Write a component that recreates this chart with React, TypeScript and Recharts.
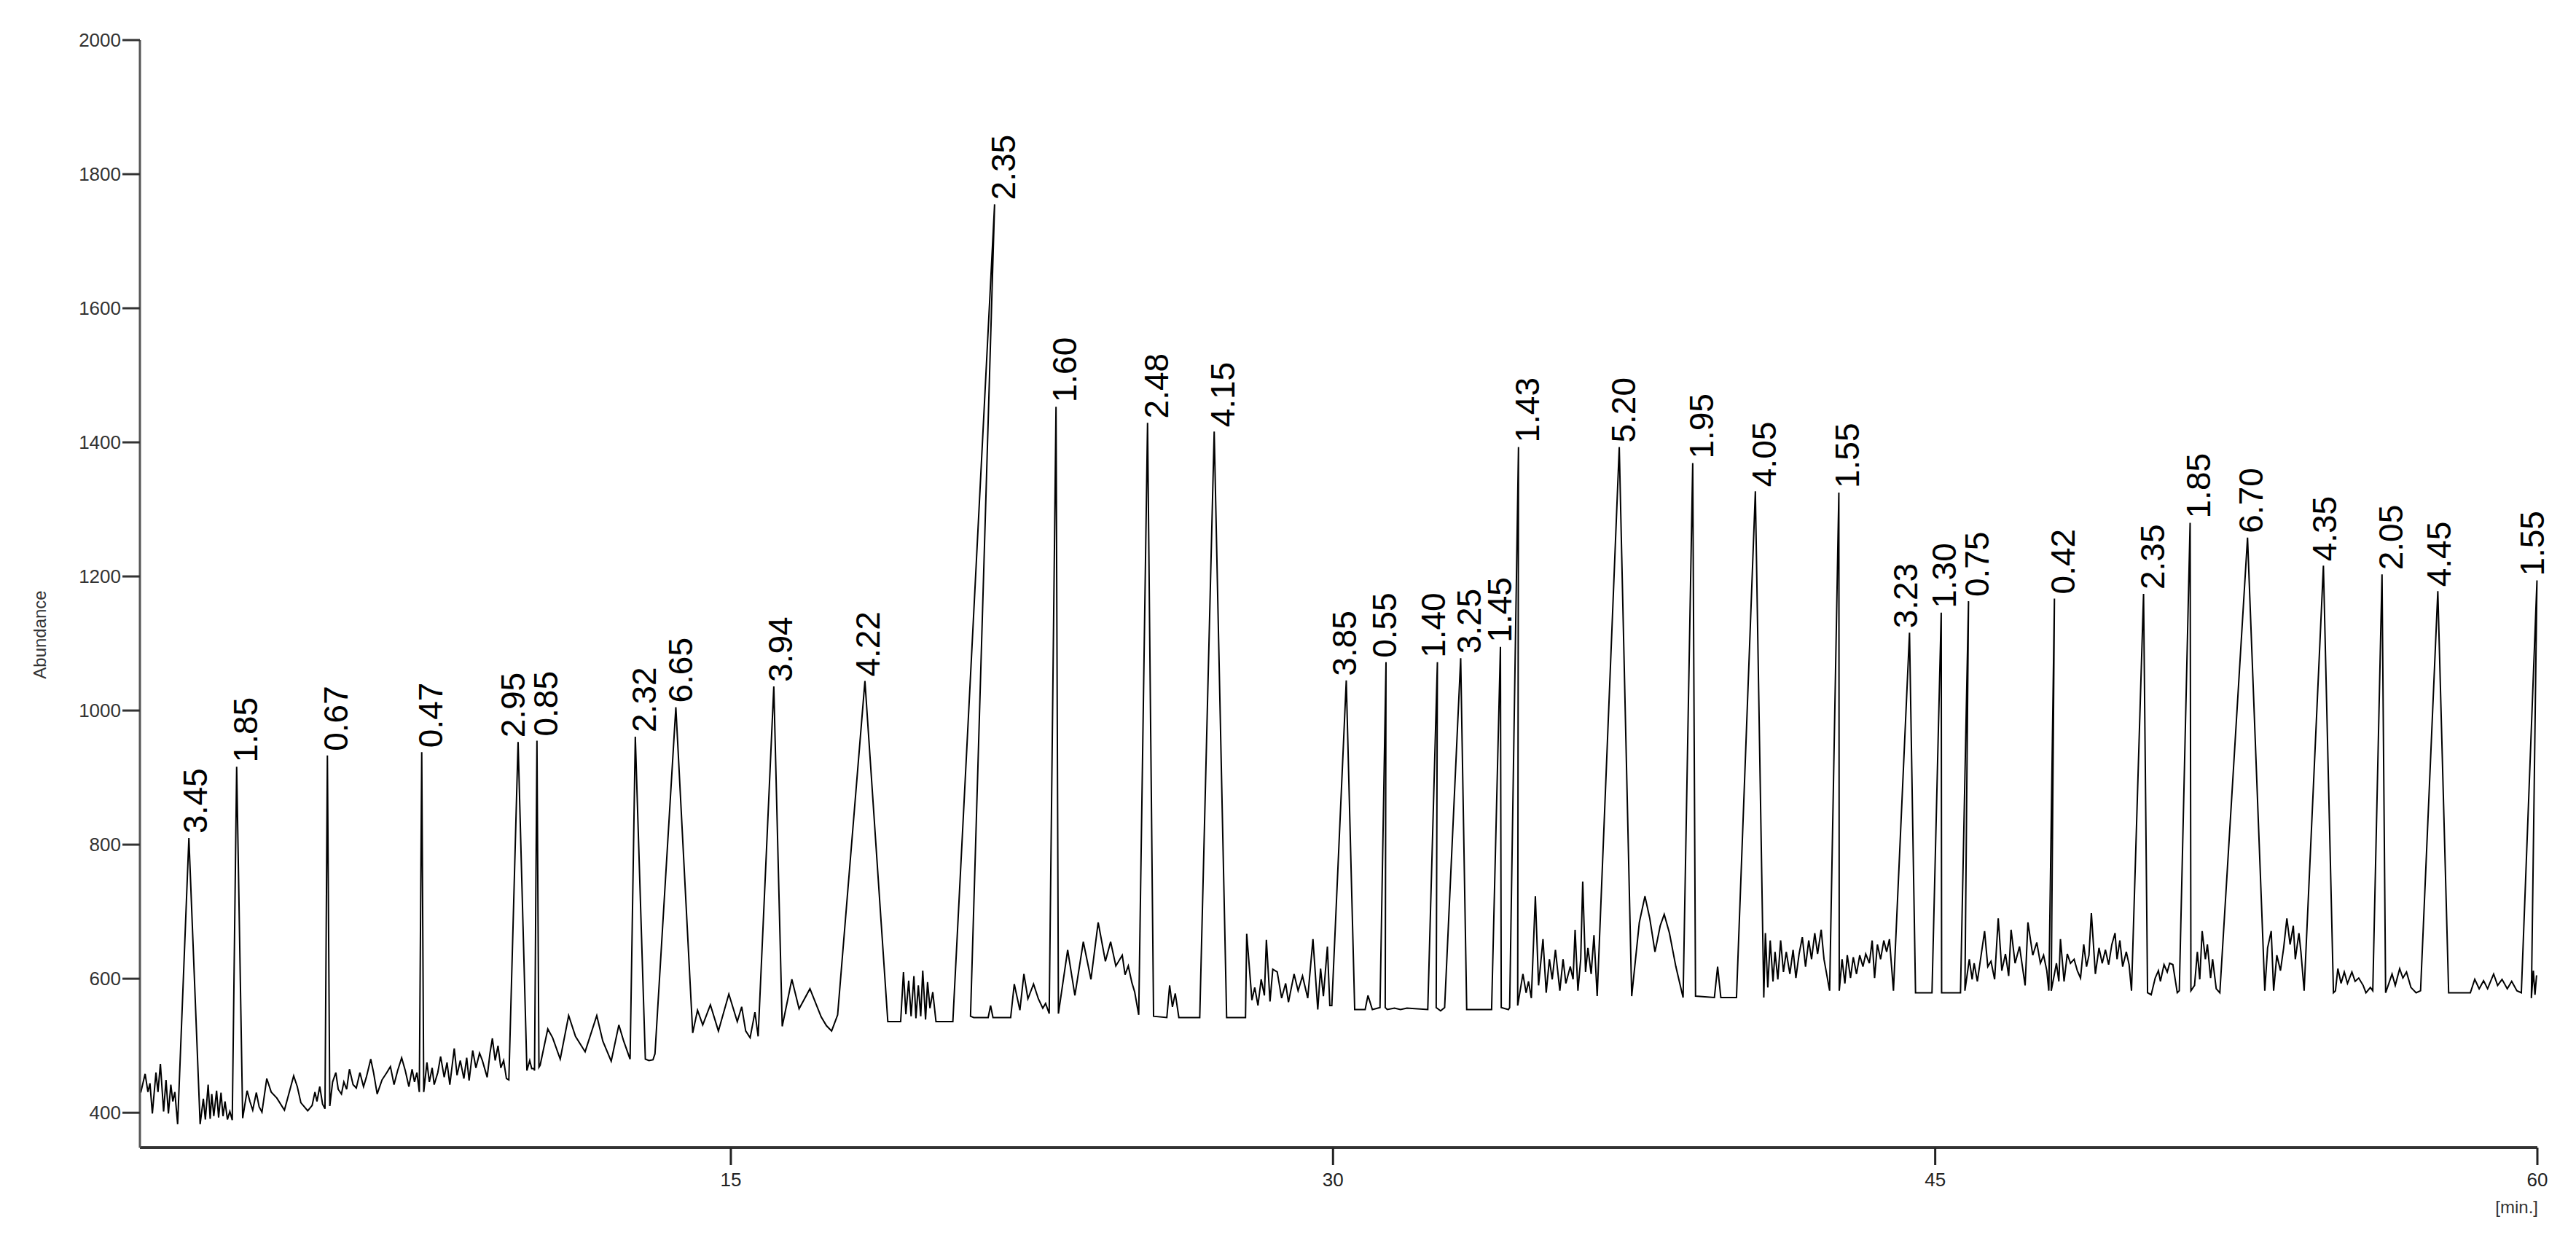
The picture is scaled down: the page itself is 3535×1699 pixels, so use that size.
import { ComposedChart, Line, Scatter, XAxis, YAxis } from 'recharts';

// chromatogram trace, [time (min), abundance]
const trace0to10: [number, number][] = [
  [0.30, 430], [0.41, 458], [0.48, 431], [0.53, 444], [0.59, 399], [0.68, 460], [0.73, 431], [0.79, 473],
  [0.87, 402], [0.93, 449], [0.99, 399], [1.05, 442], [1.10, 417], [1.15, 431], [1.22, 383],
  [1.50, 810], [1.78, 383],
  [1.86, 421], [1.91, 390], [1.98, 442], [2.03, 391], [2.07, 428], [2.12, 395], [2.19, 433], [2.24, 393],
  [2.30, 430], [2.35, 395], [2.40, 417], [2.46, 390], [2.52, 402], [2.58, 389],
  [2.69, 916], [2.84, 392],
  [2.95, 433], [3.02, 417], [3.09, 404], [3.18, 430], [3.25, 409], [3.32, 401], [3.44, 451], [3.55, 431],
  [3.69, 422], [3.88, 404], [4.11, 455], [4.20, 439], [4.29, 415], [4.46, 403], [4.57, 411], [4.64, 431],
  [4.69, 417], [4.76, 439], [4.83, 413], [4.89, 406],
  [4.95, 933], [5.01, 410],
  [5.08, 446], [5.16, 460], [5.22, 435], [5.30, 428], [5.36, 446], [5.43, 435], [5.50, 465], [5.59, 442],
  [5.67, 437], [5.76, 460], [5.85, 439], [5.92, 453], [6.03, 480], [6.10, 460], [6.19, 428], [6.31, 449],
  [6.43, 460], [6.52, 469], [6.61, 442], [6.70, 463], [6.80, 482], [6.89, 463], [6.98, 439], [7.06, 465],
  [7.12, 446], [7.18, 460], [7.24, 431],
  [7.30, 938], [7.35, 431],
  [7.43, 475], [7.49, 446], [7.56, 467], [7.61, 442], [7.70, 460], [7.77, 484], [7.86, 453], [7.93, 475],
  [8.00, 442], [8.11, 496], [8.18, 456], [8.26, 478], [8.35, 451], [8.42, 482], [8.48, 448], [8.57, 493],
  [8.65, 467], [8.74, 489], [8.81, 478], [8.93, 453], [9.00, 489], [9.06, 511], [9.13, 478], [9.20, 500],
  [9.27, 467], [9.34, 478], [9.41, 451], [9.47, 449],
  [9.70, 953], [9.92, 463],
  [9.99, 478], [10.04, 466], [10.09, 466], [10.11, 463],
];

const trace10to20: [number, number][] = [
  [10.17, 955], [10.22, 468],
  [10.25, 471], [10.44, 525], [10.56, 512], [10.75, 480], [10.96, 545], [11.13, 514], [11.37, 491],
  [11.66, 545], [11.81, 507], [12.02, 477], [12.21, 531], [12.33, 507], [12.49, 480],
  [12.62, 961], [12.87, 480], [12.96, 478], [13.06, 479], [13.11, 488],
  [13.63, 1005], [14.05, 519],
  [14.17, 553], [14.30, 531], [14.49, 561], [14.69, 522], [14.95, 577], [15.16, 536], [15.27, 558],
  [15.37, 522], [15.48, 512], [15.60, 550], [15.68, 514],
  [16.07, 1036], [16.28, 529],
  [16.52, 599], [16.70, 555], [16.97, 585], [17.25, 543], [17.38, 530], [17.51, 522], [17.66, 546],
  [18.34, 1044], [18.91, 536],
  [19.23, 536], [19.30, 610], [19.36, 547], [19.43, 597], [19.49, 544], [19.56, 604], [19.61, 541],
  [19.67, 590], [19.73, 544], [19.78, 612], [19.85, 539], [19.90, 595], [19.96, 556], [20.03, 580],
  [20.11, 536], [20.53, 536],
];

const trace20to30: [number, number][] = [
  [21.57, 1755], [20.97, 544],
  [21.05, 542], [21.41, 542], [21.47, 560], [21.53, 542], [21.97, 542], [22.06, 592], [22.20, 553],
  [22.30, 607], [22.40, 570], [22.54, 592], [22.66, 570], [22.77, 556], [22.84, 563], [22.93, 548],
  [23.10, 1453], [23.16, 548],
  [23.39, 643], [23.57, 575], [23.78, 655], [23.97, 599], [24.15, 684], [24.33, 626], [24.46, 655],
  [24.59, 619], [24.75, 635], [24.82, 606], [24.90, 619], [24.99, 594], [25.06, 580], [25.16, 546],
  [25.38, 1429], [25.53, 544],
  [25.86, 542], [25.93, 590], [26.00, 558], [26.07, 578], [26.16, 542], [26.68, 542],
  [27.04, 1416], [27.35, 542], [27.82, 542],
  [27.85, 667], [27.98, 568], [28.05, 587], [28.13, 560], [28.21, 599], [28.29, 575], [28.34, 658],
  [28.43, 566], [28.50, 614], [28.61, 610], [28.72, 571], [28.82, 593], [28.89, 565], [29.03, 607],
  [29.13, 582], [29.24, 604], [29.37, 571], [29.50, 659], [29.62, 554], [29.69, 615], [29.76, 574],
  [29.86, 648], [29.92, 560], [29.97, 560],
];

const trace30to40: [number, number][] = [
  [30.33, 1045], [30.54, 554],
  [30.80, 554], [30.87, 575], [30.98, 554], [31.17, 557],
  [31.32, 1072], [31.30, 557],
  [31.35, 554], [31.53, 556], [31.68, 554], [31.84, 556], [32.36, 554],
  [32.60, 1072], [32.57, 557], [32.68, 552], [32.78, 557],
  [33.18, 1078], [33.33, 554], [33.95, 554],
  [34.17, 1095], [34.19, 557], [34.37, 554], [34.40, 557],
  [34.62, 1393], [34.60, 560],
  [34.73, 607], [34.81, 579], [34.87, 596], [34.94, 571], [35.04, 723], [35.12, 590], [35.23, 659],
  [35.31, 579], [35.39, 629], [35.46, 599], [35.54, 643], [35.65, 582], [35.73, 629], [35.80, 593],
  [35.91, 618], [35.98, 599], [36.03, 673], [36.10, 582], [36.17, 629], [36.22, 745], [36.29, 610],
  [36.35, 646], [36.43, 607], [36.50, 665], [36.58, 574],
  [37.13, 1393], [37.44, 574],
  [37.63, 684], [37.77, 723], [37.89, 690], [38.02, 640], [38.15, 679], [38.25, 696], [38.38, 668],
  [38.54, 618], [38.72, 572],
  [38.96, 1369], [39.03, 574],
  [39.50, 572], [39.58, 618], [39.66, 572], [40.05, 572],
];

const trace40to50: [number, number][] = [
  [40.52, 1327], [40.73, 572],
  [40.77, 668], [40.83, 587], [40.89, 657], [40.96, 596], [41.01, 640], [41.08, 599], [41.15, 657],
  [41.22, 610], [41.29, 640], [41.38, 607], [41.46, 643], [41.53, 601], [41.61, 637], [41.69, 662],
  [41.77, 618], [41.85, 657], [41.92, 629], [42.00, 668], [42.07, 637], [42.16, 673], [42.23, 629],
  [42.37, 582],
  [42.60, 1325], [42.61, 582],
  [42.68, 629], [42.75, 593], [42.81, 635], [42.89, 601], [42.96, 632], [43.04, 607], [43.12, 635],
  [43.20, 618], [43.27, 637], [43.36, 623], [43.43, 657], [43.49, 601], [43.56, 651], [43.64, 629],
  [43.72, 657], [43.79, 640], [43.86, 659], [43.96, 582],
  [44.36, 1116], [44.51, 579], [44.92, 579],
  [45.15, 1146], [45.16, 579], [45.63, 579],
  [45.83, 1163], [45.74, 582],
  [45.85, 629], [45.92, 599], [45.97, 623], [46.05, 596], [46.11, 621], [46.23, 671], [46.31, 618],
  [46.39, 626], [46.48, 599], [46.57, 690], [46.66, 612], [46.75, 637], [46.83, 604], [46.89, 673],
  [46.99, 623], [47.10, 648], [47.24, 590], [47.31, 684], [47.43, 635], [47.53, 654], [47.62, 623],
  [47.70, 635], [47.78, 612], [47.83, 582],
  [47.97, 1167], [47.89, 582],
  [48.02, 623], [48.08, 596], [48.12, 659], [48.21, 596], [48.29, 637], [48.37, 623], [48.46, 629],
  [48.54, 612], [48.62, 601], [48.70, 651], [48.77, 618], [48.83, 635], [48.89, 698], [48.99, 607],
  [49.08, 646], [49.16, 623], [49.24, 643], [49.32, 621], [49.40, 651], [49.48, 668], [49.53, 629],
  [49.60, 657], [49.67, 618], [49.76, 640], [49.83, 621], [49.89, 582],
];

const trace50to60: [number, number][] = [
  [50.19, 1174], [50.29, 579],
  [50.38, 576], [50.48, 601], [50.56, 612], [50.61, 596], [50.70, 621], [50.78, 610], [50.84, 623],
  [50.92, 621], [51.03, 579], [51.08, 582],
  [51.35, 1280], [51.37, 582],
  [51.46, 590], [51.53, 640], [51.59, 599], [51.65, 671], [51.73, 629], [51.78, 651], [51.86, 601],
  [51.91, 629], [52.00, 585], [52.09, 579],
  [52.78, 1258], [53.21, 582],
  [53.28, 646], [53.37, 671], [53.43, 582], [53.51, 635], [53.60, 612], [53.68, 646], [53.76, 690],
  [53.84, 651], [53.92, 679], [53.97, 629], [54.06, 668], [54.11, 640], [54.19, 582],
  [54.67, 1216], [54.92, 579],
  [54.97, 582], [55.03, 615], [55.11, 593], [55.19, 610], [55.27, 593], [55.38, 610], [55.46, 596],
  [55.55, 601], [55.66, 590], [55.73, 579], [55.84, 587], [55.90, 582],
  [56.13, 1203], [56.22, 579],
  [56.30, 593], [56.38, 607], [56.46, 590], [56.57, 615], [56.65, 601], [56.74, 610], [56.85, 587],
  [56.98, 579], [57.09, 582],
  [57.52, 1178], [57.79, 579], [58.33, 579],
  [58.44, 599], [58.55, 585], [58.66, 597], [58.76, 585], [58.91, 607], [59.01, 590], [59.12, 599],
  [59.25, 585], [59.36, 596], [59.49, 582], [59.60, 579],
  [59.99, 1194], [59.85, 571],
  [59.90, 612], [59.94, 576], [59.98, 605],
];

// labelled peaks
const peakTimes = [
  1.50, 2.69, 4.95, 7.30, 9.70, 10.17, 12.62, 13.63, 16.07, 18.34, 21.57, 23.10, 25.38, 27.04, 30.33,
  31.32, 32.60, 33.18, 34.17, 34.62, 37.13, 38.96, 40.52, 42.60, 44.36, 45.15, 45.83, 47.97, 50.19,
  51.35, 52.78, 54.67, 56.13, 57.52, 59.99,
];
const peakHeights = [
  810, 916, 933, 938, 953, 955, 961, 1005, 1036, 1044, 1755, 1453, 1429, 1416, 1045,
  1072, 1072, 1078, 1095, 1393, 1393, 1369, 1327, 1325, 1116, 1146, 1163, 1167, 1174,
  1280, 1258, 1216, 1203, 1178, 1194,
];
const peakLabels = [
  '3.45', '1.85', '0.67', '0.47', '2.95', '0.85', '2.32', '6.65', '3.94', '4.22', '2.35', '1.60', '2.48', '4.15', '3.85',
  '0.55', '1.40', '3.25', '1.45', '1.43', '5.20', '1.95', '4.05', '1.55', '3.23', '1.30', '0.75', '0.42', '2.35',
  '1.85', '6.70', '4.35', '2.05', '4.45', '1.55',
];

const xTicks = [15, 30, 45, 60];
const yTicks = [400, 600, 800, 1000, 1200, 1400, 1600, 1800, 2000];

const FONT = '"Liberation Sans", Arial, Helvetica, sans-serif';

// pixel nudges for crowded labels (index -> px to the left)
const labelNudge: Record<number, number> = {
  0: 3, 4: 19, 7: 5, 8: 3, 9: 8, 14: 14, 15: 14, 16: 18, 18: 13, 20: 6,
  24: 17, 25: 8, 30: 7, 31: 10, 33: 10, 34: 18,
};

const traceData = [...trace0to10, ...trace10to20, ...trace20to30, ...trace30to40, ...trace40to50, ...trace50to60]
  .map(([t, v]) => ({ t, v }));
const peakData = peakTimes.map((t, i) => ({ t, v: peakHeights[i], label: peakLabels[i], idx: i }));

const PeakLabel = (props: any) => {
  const { cx, cy, payload } = props;
  if (cx == null || cy == null) return null;
  const nudge = labelNudge[payload.idx] || 0;
  return (
    <text
      transform={`translate(${cx + 28 - nudge}, ${cy - 6}) rotate(-90)`}
      fontSize={46}
      fontFamily={FONT}
      fill="#000"
    >
      {payload.label}
    </text>
  );
};

const MinLabel = (props: any) => {
  const vb = props.viewBox || {};
  return (
    <text x={vb.x + vb.width + 1} y={vb.y + 90} textAnchor="end" fontSize={24} fontFamily={FONT} fill="#333">
      [min.]
    </text>
  );
};

const AbundanceLabel = () => (
  <text transform="translate(63, 871) rotate(-90)" textAnchor="middle" fontSize={24} fontFamily={FONT} fill="#333">
    Abundance
  </text>
);

export default function App() {
  return (
    <div style={{ position: 'absolute', left: 0, top: 0, background: '#fff' }}>
      <ComposedChart width={3535} height={1699} margin={{ top: 55, right: 53, bottom: 0, left: 0 }}>
        <XAxis
          type="number"
          dataKey="t"
          domain={[0.28, 60]}
          ticks={xTicks}
          tickSize={24}
          tickMargin={11}
          height={124}
          axisLine={{ stroke: '#333', strokeWidth: 4 }}
          tickLine={{ stroke: '#222', strokeWidth: 3 }}
          tick={{ fontSize: 26, fontFamily: FONT, fill: '#222' }}
          label={<MinLabel />}
        />
        <YAxis
          type="number"
          dataKey="v"
          domain={[348, 2000]}
          ticks={yTicks}
          width={192}
          tickSize={24}
          tickMargin={2}
          axisLine={{ stroke: '#555', strokeWidth: 3 }}
          tickLine={{ stroke: '#333', strokeWidth: 3 }}
          tick={{ fontSize: 26, fontFamily: FONT, fill: '#333' }}
          label={<AbundanceLabel />}
        />
        <Line
          data={traceData}
          dataKey="v"
          type="linear"
          stroke="#000"
          strokeWidth={2}
          dot={false}
          activeDot={false}
          isAnimationActive={false}
        />
        <Scatter data={peakData} dataKey="v" shape={<PeakLabel />} isAnimationActive={false} />
      </ComposedChart>
    </div>
  );
}
